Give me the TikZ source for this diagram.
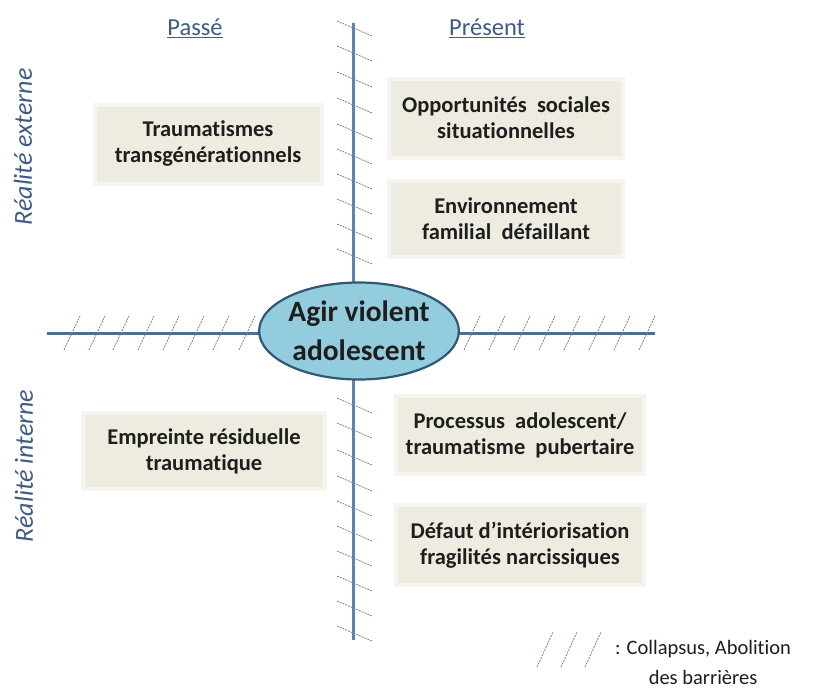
\documentclass[tikz,border=0pt]{standalone}
\usepackage{fontspec}
\setmainfont[Ligatures=NoCommon]{Carlito}
\usetikzlibrary{shapes.geometric}
\definecolor{axisV}{HTML}{5A85B3}
\definecolor{axisH}{HTML}{4F6F8E}
\definecolor{boxfill}{HTML}{EEECE1}
\definecolor{boxedge}{HTML}{F5F4EE}
\definecolor{ellfill}{HTML}{93CDDD}
\definecolor{elledge}{HTML}{2F5878}
\definecolor{hatchc}{HTML}{957A7A}
\definecolor{labc}{HTML}{3E5C86}
\definecolor{txt}{HTML}{1E1E1E}
\begin{document}
\begin{tikzpicture}[x=1pt,y=-1pt,
  factor/.style={fill=boxfill, preaction={draw=boxedge, line width=8pt},
    align=center, inner sep=0pt, text=txt,
    font=\fontsize{22.5}{26}\selectfont\bfseries},
  hatchline/.style={hatchc, line width=0.8pt, dash pattern=on 2pt off 1pt},
  axisv/.style={axisV, line width=3pt},
  axish/.style={axisH, line width=3pt},
  header/.style={text=labc, font=\fontsize{24.5}{28}\selectfont},
  sidelab/.style={text=labc, rotate=90, font=\fontsize{26}{30}\selectfont\itshape},
  centre/.style={ellipse, fill=ellfill, draw=elledge, line width=2.2pt,
    minimum width=192pt, minimum height=97pt, inner sep=0pt, align=center,
    text=txt, font=\fontsize{29.5}{39}\selectfont\bfseries}]
\useasboundingbox (0,0) rectangle (818,689);
\fill[white] (0,0) rectangle (818,689);

% axes
\coordinate (vtop) at (353,23);
\coordinate (vbot) at (353,640);
\coordinate (hleft) at (47,333);
\coordinate (hright) at (655,333);
\draw[axisv] (vtop) -- (vbot);
\draw[axish] (hleft) -- (hright);

% hatches on the vertical axis
\foreach \c in {28,53,79,105,131,156,181,206,231,256,405,430,457,483,508,533,558,583,608,633}
  \draw[hatchline] (337,\c-7) -- (372,\c+8);
% hatches on the horizontal axis
\foreach \c in {72,97,121,146,171,196,221,247,472,497,522,547,572,597,622,647}
  \draw[hatchline] (\c-8,350) -- (\c+8,316);

% centre
\node[centre] (agir) at (359,331) {Agir violent\\adolescent};

% headers
\node[header] (passe) at (195,28) {\underline{Passé}};
\node[header] (present) at (487,28) {\underline{Présent}};
\node[sidelab] (ext) at (23,147) {Réalité externe};
\node[sidelab] (int) at (24,466) {Réalité interne};

% factor boxes
\node[factor, minimum width=223pt, minimum height=75pt] (trauma) at (208,144)
  {Traumatismes\\transgénérationnels};
\node[factor, minimum width=230pt, minimum height=75pt] (oppo) at (506,118)
  {Opportunités\ \ sociales\\situationnelles};
\node[factor, minimum width=230pt, minimum height=72pt] (env) at (506,219)
  {Environnement\\familial\ \ défaillant};
\node[factor, minimum width=238pt, minimum height=72pt] (empr) at (204,451)
  {Empreinte résiduelle\\traumatique};
\node[factor, minimum width=244pt, minimum height=74pt] (proc) at (520,435)
  {Processus\ \ adolescent/\\traumatisme\ \ pubertaire};
\node[factor, minimum width=244pt, minimum height=76pt] (def) at (520,545)
  {Défaut d’intériorisation\\fragilités narcissiques};

% legend
\foreach \c in {545,569,593}
  \draw[hatchline] (\c-8,667) -- (\c+8,632);
\node[align=center, text=txt, font=\fontsize{20.5}{30}\selectfont] (legend) at (703,662)
  {: Collapsus, Abolition\\des barrières};
\end{tikzpicture}
\end{document}
